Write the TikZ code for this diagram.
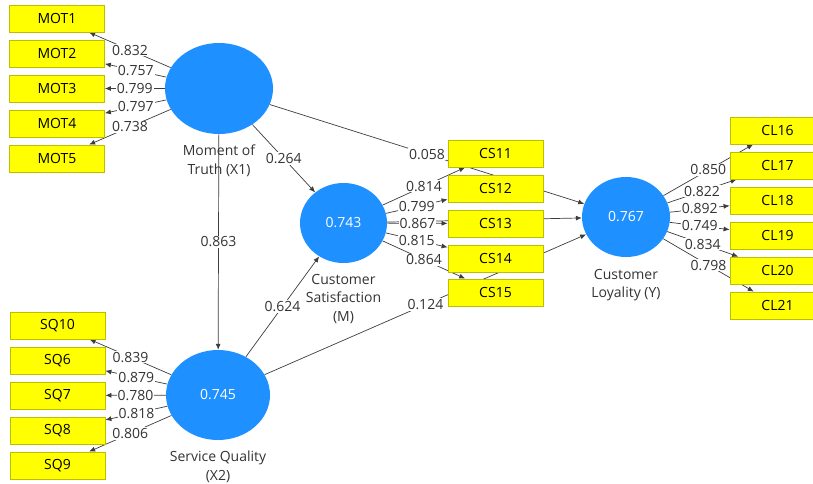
\documentclass[tikz,border=0pt]{standalone}
\usepackage{fontspec}
\setmainfont{Open Sans}
\usetikzlibrary{shapes.geometric,arrows.meta}
\pgfdeclarelayer{bg}
\pgfsetlayers{bg,main}
\definecolor{lvblue}{RGB}{30,144,255}
\definecolor{indfill}{RGB}{255,255,0}
\definecolor{indborder}{RGB}{190,190,0}
\definecolor{lncol}{RGB}{60,60,60}
\definecolor{txtcol}{RGB}{51,51,51}
\begin{document}
\begin{tikzpicture}[x=1pt,y=-1pt,
  font=\fontsize{14}{18.5}\selectfont,
  indbox/.style={draw=indborder,fill=indfill,minimum width=95pt,minimum height=27pt,inner sep=0pt,text=black,line width=0.8pt},
  lv/.style={ellipse,fill=lvblue,draw=none,inner sep=0pt,text=white},
  lvname/.style={align=center,text=txtcol,inner sep=0pt},
  conn/.style={draw=lncol,line width=0.7pt,-{Latex[length=6pt,width=5pt]}},
  coef/.style={fill=white,text=txtcol,inner sep=1pt,midway}
]
\useasboundingbox (0,0) rectangle (813,484);
\clip (0,0) rectangle (813,484);

% latent variables
\node[lv,minimum width=108pt,minimum height=91pt] (X1) at (219,88.5) {};
\node[lv,minimum width=104pt,minimum height=90pt] (X2) at (218,395) {0.745};
\node[lv,minimum width=87pt,minimum height=80pt] (M) at (343.5,223) {0.743};
\node[lv,minimum width=88pt,minimum height=80pt] (Y) at (626,217) {0.767};

\node[lvname] (X1n) at (219,161) {Moment of\\Truth (X1)};
\node[lvname] (X2n) at (218,467) {Service Quality\\(X2)};
\node[lvname] (Mn) at (343.5,299) {Customer\\Satisfaction\\(M)};
\node[lvname] (Yn) at (626,285) {Customer\\Loyality (Y)};

% indicators
\node[indbox] (MOT1) at (57,18.5) {MOT1};
\node[indbox] (MOT2) at (57,53.5) {MOT2};
\node[indbox] (MOT3) at (57,88.5) {MOT3};
\node[indbox] (MOT4) at (57,123.5) {MOT4};
\node[indbox] (MOT5) at (57,158.5) {MOT5};

\node[indbox] (SQ10) at (57.5,325.5) {SQ10};
\node[indbox] (SQ6) at (57.5,360.5) {SQ6};
\node[indbox] (SQ7) at (57.5,395.5) {SQ7};
\node[indbox] (SQ8) at (57.5,430.5) {SQ8};
\node[indbox] (SQ9) at (57.5,465.5) {SQ9};

\node[indbox] (CS11) at (495.5,153.5) {CS11};
\node[indbox] (CS12) at (495.5,188.5) {CS12};
\node[indbox] (CS13) at (495.5,223.5) {CS13};
\node[indbox] (CS14) at (495.5,258.5) {CS14};
\node[indbox] (CS15) at (495.5,292.5) {CS15};

\node[indbox] (CL16) at (777.5,130.5) {CL16};
\node[indbox] (CL17) at (777.5,165.5) {CL17};
\node[indbox] (CL18) at (777.5,200.5) {CL18};
\node[indbox] (CL19) at (777.5,235.5) {CL19};
\node[indbox] (CL20) at (777.5,270.5) {CL20};
\node[indbox] (CL21) at (777.5,305.5) {CL21};

\begin{pgfonlayer}{bg}
% structural paths
\draw[conn] (X1) -- node[coef]{0.863} (X2);
\draw[conn] (X1) -- node[coef]{0.264} (M);
\draw[conn] (X2) -- node[coef]{0.624} (M);
\draw[conn] (X1) -- node[coef]{0.058} (Y);
\draw[conn] (X2) -- node[coef]{0.124} (Y);
\draw[conn] (M) -- (Y);
% outer loadings
\draw[conn] (X1) -- node[coef]{0.832} (MOT1);
\draw[conn] (X1) -- node[coef]{0.757} (MOT2);
\draw[conn] (X1) -- node[coef]{0.799} (MOT3);
\draw[conn] (X1) -- node[coef]{0.797} (MOT4);
\draw[conn] (X1) -- node[coef]{0.738} (MOT5);

\draw[conn] (X2) -- node[coef]{0.839} (SQ10);
\draw[conn] (X2) -- node[coef]{0.879} (SQ6);
\draw[conn] (X2) -- node[coef]{0.780} (SQ7);
\draw[conn] (X2) -- node[coef]{0.818} (SQ8);
\draw[conn] (X2) -- node[coef]{0.806} (SQ9);

\draw[conn] (M) -- node[coef]{0.814} (CS11);
\draw[conn] (M) -- node[coef]{0.799} (CS12);
\draw[conn] (M) -- node[coef]{0.867} (CS13);
\draw[conn] (M) -- node[coef]{0.815} (CS14);
\draw[conn] (M) -- node[coef]{0.864} (CS15);

\draw[conn] (Y) -- node[coef]{0.850} (CL16);
\draw[conn] (Y) -- node[coef]{0.822} (CL17);
\draw[conn] (Y) -- node[coef]{0.892} (CL18);
\draw[conn] (Y) -- node[coef]{0.749} (CL19);
\draw[conn] (Y) -- node[coef]{0.834} (CL20);
\draw[conn] (Y) -- node[coef]{0.798} (CL21);
\end{pgfonlayer}
\end{tikzpicture}
\end{document}
